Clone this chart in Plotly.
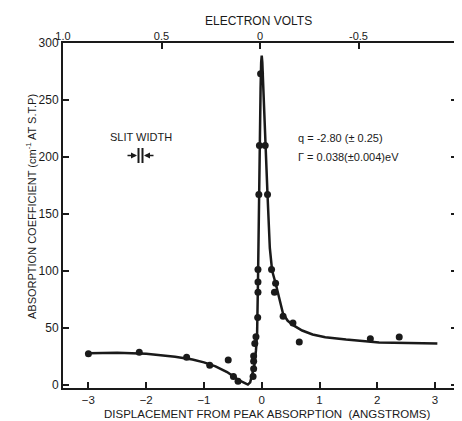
import plotly.graph_objects as go

# Measured points (displacement in angstroms, absorption coefficient)
pt_x = [-3.0, -2.12, -1.30, -0.90, -0.58, -0.49, -0.41,
        -0.15, -0.14, -0.14, -0.14, -0.12, -0.10,
        -0.07, -0.065, -0.065, -0.065, -0.05, -0.04, -0.02,
        0.06, 0.10, 0.17, 0.24, 0.22, 0.37, 0.54, 0.65, 1.88, 2.38]
pt_y = [27, 28.5, 24, 17, 21.5, 7, 3,
        7, 14, 20.5, 25, 36, 42,
        59, 81, 90, 101, 167, 210, 273,
        210, 167, 101, 89, 81, 60, 54, 37.5, 40.3, 41.7]

# Fitted curve
curve_x = [-3.0, -2.5, -2.0, -1.5, -1.2, -1.0, -0.8, -0.6, -0.5, -0.4, -0.3, -0.24,
           -0.2, -0.16, -0.13, -0.1, -0.08, -0.065, -0.05, -0.035, -0.02, -0.01, 0.0,
           0.01, 0.03, 0.06, 0.1, 0.14, 0.18, 0.24, 0.3, 0.37, 0.45, 0.55, 0.7, 0.88,
           1.1, 1.46, 2.03, 2.5, 3.04]
curve_y = [27.5, 28, 27, 24.5, 22, 19.5, 16, 11, 7.5, 4, 1.5, 0,
           2, 9, 16, 30, 45, 90, 160, 215, 260, 283, 289,
           283, 255, 210, 167, 120, 100, 89, 77, 62, 56, 52, 47.5, 44,
           41.5, 39.5, 37, 36.5, 36]

x_ticks = [-3, -2, -1, 0, 1, 2, 3]
y_ticks = [0, 50, 100, 150, 200, 250, 300]
ev_ticks = [1.0, 0.5, 0, -0.5, -1.0]
ev_labels = ["1.0", "0.5", "0", "-0.5", "-1.0"]

FONT = "Liberation Sans"
ink = "#1a1a1a"

fig = go.Figure()
fig.add_trace(go.Scatter(x=curve_x, y=curve_y, mode="lines",
                         line=dict(color=ink, width=2.5), showlegend=False,
                         hoverinfo="skip"))
fig.add_trace(go.Scatter(x=pt_x, y=pt_y, mode="markers",
                         marker=dict(color=ink, size=7), showlegend=False))
# invisible trace on the electron-volt axis
fig.add_trace(go.Scatter(x=[0], y=[0], xaxis="x2", mode="markers",
                         marker=dict(opacity=0), showlegend=False, hoverinfo="skip"))

# page body has an 8px margin, so the figure is drawn 8px in from the window corner
fig.update_layout(
    width=454, height=413,
    margin=dict(l=55, r=5, t=35, b=33),
    paper_bgcolor="white", plot_bgcolor="white",
    font=dict(family=FONT, color=ink, size=11),
    xaxis=dict(range=[-3.44, 3.38], tickvals=x_ticks, ticks="inside", ticklen=6,
               tickwidth=1.5, tickcolor=ink, showline=True, linecolor=ink, linewidth=2,
               mirror=True, showgrid=False, zeroline=False, automargin=False,
               tickfont=dict(size=11.5, family=FONT)),
    xaxis2=dict(overlaying="x", side="top", range=[1.0, -1.0], tickvals=ev_ticks,
                ticktext=ev_labels, ticks="inside", ticklen=6, tickwidth=1.5,
                tickcolor=ink, showgrid=False, zeroline=False, showline=False,
                automargin=False, tickfont=dict(size=11, family=FONT)),
    yaxis=dict(range=[-3, 300], tickvals=y_ticks, ticks="inside", ticklen=6,
               tickwidth=1.5, tickcolor=ink, showline=True, linecolor=ink, linewidth=2,
               mirror="ticks", showgrid=False, zeroline=False, automargin=False,
               tickfont=dict(size=12, family=FONT)),
)

# annotations (paper coordinates; arguments in window pixels)
def px(x):
    return (x - 63) / 394.0

def py(y):
    return (388 - y) / 345.0

def label(x, y, text, size=11, xanchor="center", angle=0):
    fig.add_annotation(x=px(x), y=py(y), xref="paper", yref="paper", text=text,
                       showarrow=False, xanchor=xanchor, yanchor="middle",
                       textangle=angle, font=dict(size=size, family=FONT, color=ink))

label(267, 413.5, "DISPLACEMENT FROM PEAK ABSORPTION  (ANGSTROMS)", size=11.5)
label(258, 21, "ELECTRON VOLTS", size=12)
label(31, 207, "ABSORPTION COEFFICIENT (cm<sup>-1</sup> AT S.T.P)", angle=-90)
label(141, 137, "SLIT WIDTH")
label(296, 138, "q = -2.80 (± 0.25)", xanchor="left")
label(296, 157, "Γ = 0.038(±0.004)eV", xanchor="left")

# slit width symbol
for xx in (138.5, 142.5):
    fig.add_shape(type="line", xref="paper", yref="paper",
                  x0=px(xx), x1=px(xx), y0=py(148), y1=py(163),
                  line=dict(color=ink, width=2))
fig.add_annotation(x=px(137), y=py(155.5), xref="paper", yref="paper", ax=-11, ay=0,
                   showarrow=True, arrowhead=2, arrowsize=0.8, arrowwidth=1.5,
                   arrowcolor=ink, text="")
fig.add_annotation(x=px(144), y=py(155.5), xref="paper", yref="paper", ax=11, ay=0,
                   showarrow=True, arrowhead=2, arrowsize=0.8, arrowwidth=1.5,
                   arrowcolor=ink, text="")

fig.write_html("out.html")
